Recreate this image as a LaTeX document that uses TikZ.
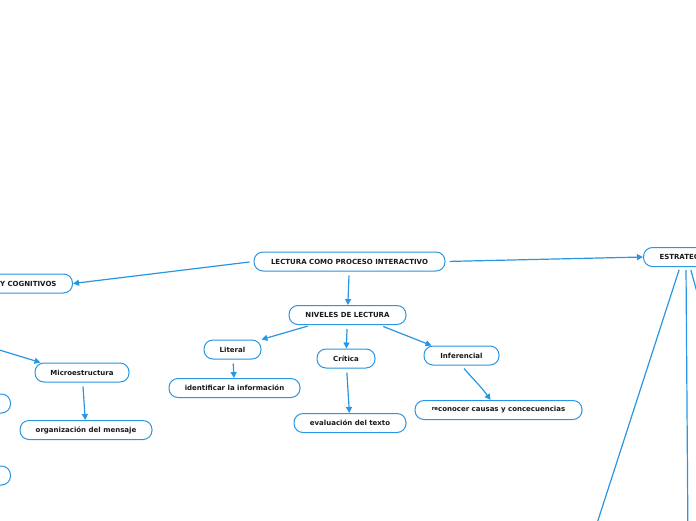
\documentclass[tikz,border=0pt]{standalone}
\usepackage{fontspec}
\setmainfont{DejaVu Sans}
\usepackage{tikz}
\usetikzlibrary{arrows.meta, positioning, calc}
\definecolor{mapblue}{RGB}{40,150,225}
\definecolor{maptext}{RGB}{25,25,25}
\tikzset{
  block/.style={rectangle, draw=mapblue, fill=white, text=maptext,
    font=\fontsize{7}{8}\selectfont\bfseries, rounded corners=9pt,
    minimum height=19pt, line width=1pt, inner xsep=4pt},
  arrow/.style={-{Triangle[length=6pt, width=6pt]}, line width=1.2pt, color=mapblue,
    shorten <=4pt},
  line/.style={line width=1.2pt, color=mapblue}
}

\begin{document}
\begin{tikzpicture}[x=1pt, y=-1pt]
    \useasboundingbox (0,0) rectangle (696,520);
    \clip (0,0) rectangle (696,520);

    % Central topic
    \node[block, minimum width=191pt] (lectura) at (349.5,261.5) {LECTURA COMO PROCESO INTERACTIVO};

    % Main branches, partly outside the page
    \node[block, anchor=east, text width=140pt, align=right, inner xsep=16pt] (cognitivos) at (73,283.5) {Y COGNITIVOS};
    \node[block, anchor=west, text width=100pt, align=left, inner xsep=16pt] (estrategias) at (643,257) {ESTRATEG};
    \node[block, minimum width=117pt] (niveles) at (347.5,315) {NIVELES DE LECTURA};

    % Niveles
    \node[block, minimum width=57pt] (literal) at (232.5,349.5) {Literal};
    \node[block, minimum width=58pt] (critica) at (346,358.5) {Crítica};
    \node[block, minimum width=75pt] (inferencial) at (461.5,355.5) {Inferencial};
    \node[block, minimum width=131pt] (identificar) at (234.5,388) {identificar la información};
    \node[block, minimum width=112pt] (evaluacion) at (350,423) {evaluación del texto};
    \node[block, minimum width=167pt] (reconocer) at (498.5,410) {\raisebox{1.5pt}{\fontsize{5.5}{5.5}\selectfont re}conocer causas y concecuencias};

    % Left side
    \node[block, minimum width=94pt] (micro) at (82,372.5) {Microestructura};
    \node[block, minimum width=132pt] (organizacion) at (86,430) {organización del mensaje};
    \node[block, anchor=east, minimum width=60pt] (izqa) at (11,403.5) {};
    \node[block, anchor=east, minimum width=60pt] (izqb) at (11,475.5) {};

    % Free ends outside the page
    \coordinate (fuente) at (-40,338);
    \coordinate (bajoa) at (590,545);
    \coordinate (bajob) at (688,545);
    \coordinate (bajoc) at (702,310);

    % Connectors
    \draw[arrow] (lectura.west) -- (cognitivos.east);
    \draw[arrow] (lectura.east) -- (estrategias.west);
    \draw[arrow] (lectura) -- (niveles);
    \draw[arrow] ([xshift=-36pt]niveles.south) -- (literal.north east);
    \draw[arrow] (niveles) -- (critica);
    \draw[arrow] ([xshift=32pt]niveles.south) -- ([xshift=-30pt]inferencial.north);
    \draw[arrow] (literal) -- (identificar);
    \draw[arrow] (critica) -- (evaluacion);
    \draw[arrow] (inferencial.south) to[out=-50, in=125] ([xshift=-8pt]reconocer.north);
    \draw[arrow] (micro) -- (organizacion);
    \draw[arrow, shorten <=0pt] (fuente) -- ([xshift=6pt]micro.north west);
    \draw[line, shorten <=3pt] ([xshift=37pt]estrategias.south west) -- (bajoa);
    \draw[line, shorten <=3pt] ([xshift=43pt]estrategias.south west) -- (bajob);
    \draw[line, shorten <=3pt] ([xshift=47pt]estrategias.south west) -- (bajoc);
\end{tikzpicture}
\end{document}
